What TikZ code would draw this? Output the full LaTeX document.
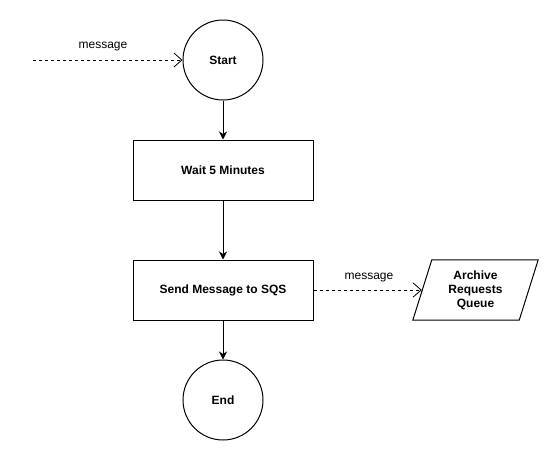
\documentclass[tikz,border=0pt]{standalone}
\usepackage{fontspec}
\setmainfont{Liberation Sans}
\usetikzlibrary{arrows.meta,calc}
\begin{document}
\begin{tikzpicture}[x=1pt,y=-1pt,
  every node/.style={font=\fontsize{12}{14}\selectfont},
  circ/.style={draw,circle,line width=1pt,minimum size=80pt,inner sep=0pt,font=\fontsize{12}{14}\selectfont\bfseries},
  boxnode/.style={draw,rectangle,line width=1pt,minimum width=180pt,minimum height=60pt,inner sep=0pt,font=\fontsize{12}{14}\selectfont\bfseries},
  qnode/.style={rectangle,minimum width=125pt,minimum height=60pt,inner sep=0pt,align=center,font=\fontsize{12}{14}\selectfont\bfseries},
  flow/.style={line width=1pt,-{Stealth[length=8pt,width=8pt,inset=2.5pt]}},
  msg/.style={line width=0.8pt,dash pattern=on 3pt off 3pt,-{Straight Barb[length=8pt,width=14pt]}},
  lbl/.style={font=\fontsize{12}{14}\selectfont}
]
\useasboundingbox (0,0) rectangle (554,461);
\node[circ] (start) at (223,60) {Start};
\node[boxnode] (wait) at (223,170) {Wait 5 Minutes};
\node[boxnode] (send) at (223,290) {Send Message to SQS};
\node[circ] (end) at (223,400) {End};
\node[qnode] (queue) at (475.5,290) {Archive\\Requests\\Queue};
\draw[line width=1pt] ($(queue.north west)+(19,0)$) -- (queue.north east) -- ($(queue.south east)+(-19,0)$) -- (queue.south west) -- cycle;
\coordinate (src) at (33,60);
\draw[msg] (src) -- (start.west);
\node[lbl] (m1) at (103,47) {message};
\draw[flow] (start) -- (wait);
\draw[flow] (wait) -- (send);
\draw[flow] (send) -- (end);
\draw[msg] (send.east) -- ($(queue.west)+(9,0)$);
\node[lbl] (m2) at (369,278) {message};
\end{tikzpicture}
\end{document}
